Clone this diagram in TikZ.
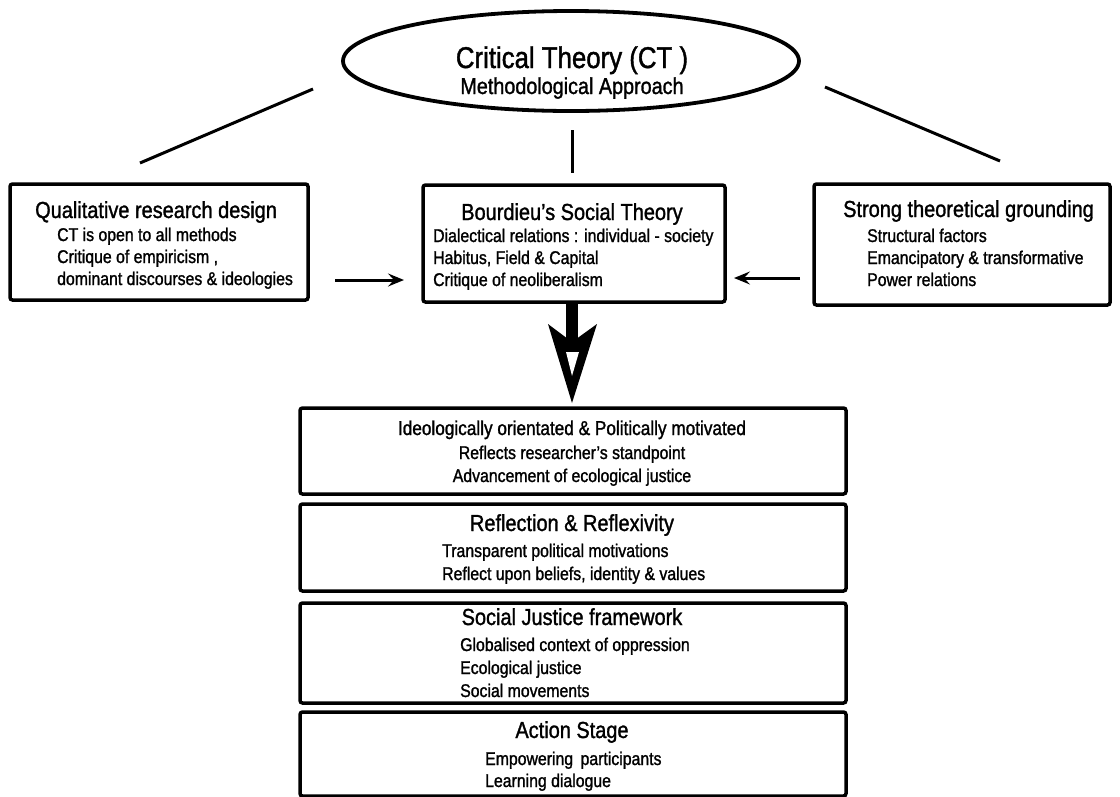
\documentclass[tikz,border=0pt]{standalone}
\usepackage{fontspec}
\setmainfont{Liberation Sans}[FakeStretch=0.86,FakeBold=1.3]
\usetikzlibrary{arrows.meta,shapes.geometric}
\begin{document}
\begin{tikzpicture}[x=1pt,y=-1pt,
  box/.style={draw,line width=3.5pt,rounded corners=2.5pt,inner sep=0pt,outer sep=0pt,anchor=north west},
  ttl/.style={inner sep=0pt,font=\fontsize{23.2}{27}\selectfont},
  sub/.style={inner sep=0pt,anchor=base west,font=\fontsize{18.4}{22}\selectfont},
  subc/.style={inner sep=0pt,anchor=base,font=\fontsize{18.4}{22}\selectfont},
  conn/.style={line width=3pt},
  sarrow/.style={line width=3pt,-{Stealth[length=16pt,width=13pt,inset=6pt]}}]
\useasboundingbox (0,0) rectangle (1120,796);

% ellipse
\node[ellipse,draw,line width=3.8pt,minimum width=456pt,minimum height=100pt,inner sep=0pt] (ct) at (571,61) {};
\node[ttl,anchor=base,font=\fontsize{30}{34}\selectfont] (ctt) at (572,68) {Critical Theory (CT )};
\node[ttl,anchor=base,font=\fontsize{23}{27}\selectfont] (cts) at (572,94) {Methodological Approach};

% top boxes
\node[box,minimum width=298pt,minimum height=116pt] (qual) at (10,184) {};
\node[ttl,anchor=base west] (qualt) at (35,218) {Qualitative research design};
\node[sub] (q1) at (57,241) {CT is open to all methods};
\node[sub] (q2) at (57,263) {Critique of empiricism ,};
\node[sub] (q3) at (57,285) {dominant discourses \& ideologies};

\node[box,minimum width=302pt,minimum height=117pt] (bour) at (423,185) {};
\node[ttl,anchor=base] (bourt) at (572,220) {Bourdieu’s Social Theory};
\node[sub] (b1) at (433,242) {Dialectical relations : individual - society};
\node[sub] (b2) at (433,264) {Habitus, Field \& Capital};
\node[sub] (b3) at (433,286) {Critique of neoliberalism};

\node[box,minimum width=296pt,minimum height=121pt] (strong) at (814,184) {};
\node[ttl,anchor=base west] (strongt) at (843,217) {Strong theoretical grounding};
\node[sub] (s1) at (867,242) {Structural factors};
\node[sub] (s2) at (867,264) {Emancipatory \& transformative};
\node[sub] (s3) at (867,286) {Power relations};

% connectors from ellipse
\coordinate (l1) at (313,89);
\coordinate (l2) at (140,163);
\coordinate (r1) at (825,87);
\coordinate (r2) at (1000,161);
\coordinate (m1) at (572,130);
\coordinate (m2) at (572,173);
\draw[conn] (l1) -- (l2);
\draw[conn] (r1) -- (r2);
\draw[conn] (m1) -- (m2);

% side arrows
\coordinate (la1) at (335,280);
\coordinate (la2) at (404,280);
\coordinate (ra1) at (800,278);
\coordinate (ra2) at (734,278);
\draw[sarrow] (la1) -- (la2);
\draw[sarrow] (ra1) -- (ra2);

% big arrow
\coordinate (bs) at (572,304);
\coordinate (be) at (572,346);
\draw[line width=12pt] (bs) -- (be);
\fill[black] (548,324) -- (572,403) -- (597,324) -- (572,342) -- cycle;
\fill[white] (566,352) -- (579,352) -- (572,376) -- cycle;

% bottom boxes
\node[box,minimum width=546pt,minimum height=86pt] (ideo) at (300,408) {};
\node[ttl,anchor=base,font=\fontsize{20}{24}\selectfont] (ideot) at (572,435) {Ideologically orientated \& Politically motivated};
\node[subc] (i1) at (572,459) {Reflects researcher’s standpoint};
\node[subc] (i2) at (572,482) {Advancement of ecological justice};

\node[box,minimum width=546pt,minimum height=87pt] (refl) at (300,504) {};
\node[ttl,anchor=base] (reflt) at (572,531) {Reflection \& Reflexivity};
\node[sub] (r1t) at (442,557) {Transparent political motivations};
\node[sub] (r2t) at (442,580) {Reflect upon beliefs, identity \& values};

\node[box,minimum width=546pt,minimum height=100pt] (soc) at (300,603) {};
\node[ttl,anchor=base] (soct) at (572,625) {Social Justice framework};
\node[sub] (j1) at (460,651) {Globalised context of oppression};
\node[sub] (j2) at (460,674) {Ecological justice};
\node[sub] (j3) at (460,697) {Social movements};

\node[box,minimum width=546pt,minimum height=84pt] (act) at (300,712) {};
\node[ttl,anchor=base] (actt) at (572,738) {Action Stage};
\node[sub] (a1) at (485,765) {Empowering\, participants};
\node[sub] (a2) at (485,787) {Learning dialogue};
\end{tikzpicture}
\end{document}
